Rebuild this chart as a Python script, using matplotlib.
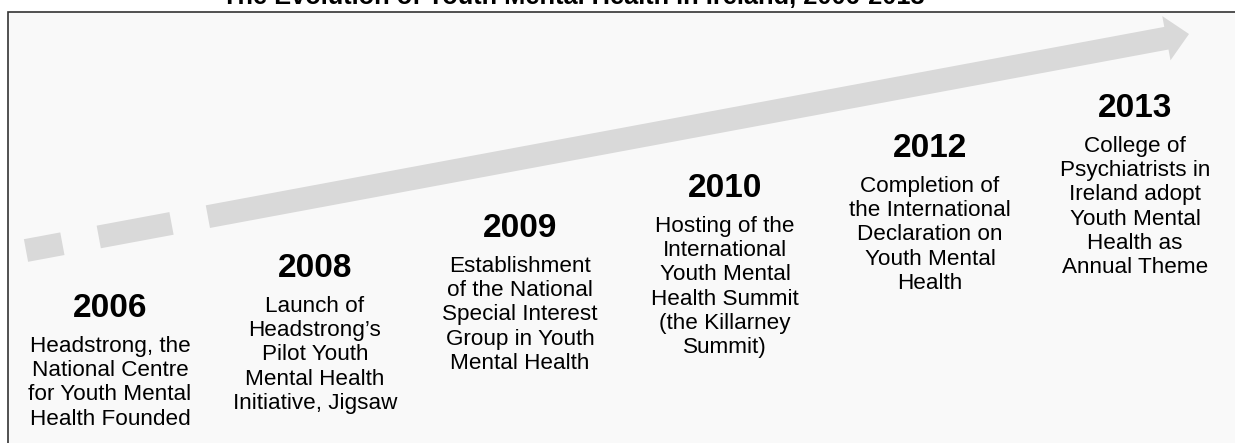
import numpy as np
import matplotlib.pyplot as plt
from matplotlib.patches import Polygon, Rectangle

# Datos del gráfico: hitos de la línea de tiempo
years = ['2006', '2008', '2009', '2010', '2012', '2013']
events = [
    'Headstrong, the\nNational Centre\nfor Youth Mental\nHealth Founded',
    'Launch of\nHeadstrong\u2019s\nPilot Youth\nMental Health\nInitiative, Jigsaw',
    'Establishment\nof the National\nSpecial Interest\nGroup in Youth\nMental Health',
    'Hosting of the\nInternational\nYouth Mental\nHealth Summit\n(the Killarney\nSummit)',
    'Completion of\nthe International\nDeclaration on\nYouth Mental\nHealth',
    'College of\nPsychiatrists in\nIreland adopt\nYouth Mental\nHealth as\nAnnual Theme',
]
title = 'The Evolution of Youth Mental Health in Ireland, 2006-2013'

W, H = 1235, 443
fig = plt.figure(figsize=(W / 100, H / 100), dpi=100)
ax = fig.add_axes([0, 0, 1, 1])
ax.set_xlim(0, W)
ax.set_ylim(H, 0)
ax.axis('off')

# Marco con fondo gris claro
ax.add_patch(Rectangle((8, 12), W + 20, H + 20, facecolor='#f9f9f9',
                       edgecolor='#333333', lw=1.2, zorder=0))

# Flecha discontinua que sube hacia la derecha
p0 = np.array([26.0, 250.5])
tip = np.array([1189.0, 34.0])
u = (tip - p0) / np.linalg.norm(tip - p0)
n = np.array([-u[1], u[0]])
L = np.linalg.norm(tip - p0)
hw = 11.5
gray = '#d9d9d9'


def seg(a, b):
    pts = [p0 + u * a + n * hw, p0 + u * b + n * hw,
           p0 + u * b - n * hw, p0 + u * a - n * hw]
    ax.add_patch(Polygon(pts, closed=True, facecolor=gray, edgecolor='none', zorder=1))


seg(0, 37)
seg(74, 148)
head_back = L - 23
seg(185, head_back + 1)
head = [p0 + u * head_back + n * 22.5, p0 + u * L, p0 + u * head_back - n * 22.5]
ax.add_patch(Polygon(head, closed=True, facecolor=gray, edgecolor='none', zorder=1))

# Textos de cada hito
for i, (yr, ev) in enumerate(zip(years, events)):
    x = 110 + 205 * i
    base = 317 - 40 * i
    ax.text(x, base, yr, ha='center', va='baseline', fontsize=24, fontweight='bold',
            family='Liberation Sans', color='black', zorder=3)
    ax.text(x, base + 19, ev, ha='center', va='top', fontsize=16.2,
            family='Liberation Sans', color='black', linespacing=1.2, zorder=3)

ax.text(573, 4, title, ha='center', va='baseline', fontsize=18.3, fontweight='bold',
        family='Liberation Sans', color='black', zorder=3)

fig.savefig('out.png', dpi=100, facecolor='white')
